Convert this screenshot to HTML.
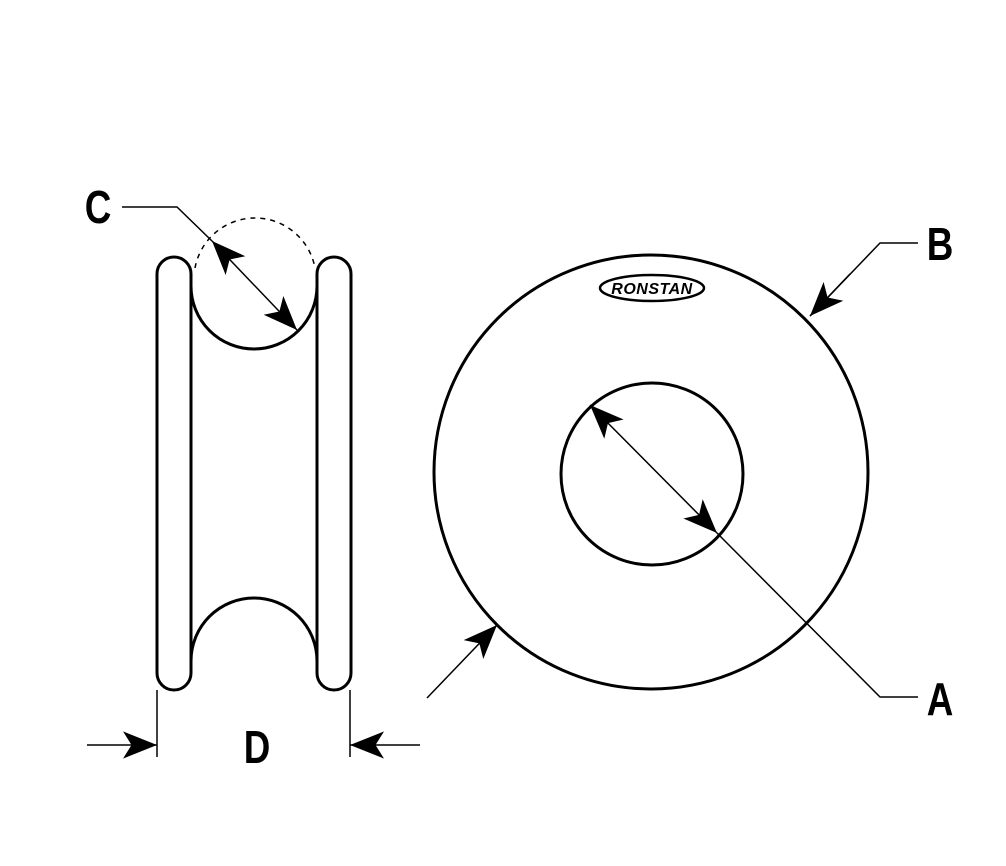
<!DOCTYPE html>
<html><head><style>html,body{margin:0;padding:0;background:#fff}svg{display:block}</style></head><body>
<svg width="1006" height="866" viewBox="0 0 1006 866" xmlns="http://www.w3.org/2000/svg">
<defs>
<marker id="ar2" viewBox="0 0 10 10" refX="10" refY="5" markerWidth="34" markerHeight="34" markerUnits="userSpaceOnUse" orient="auto-start-reverse"><path d="M0,1 L10,5 L0,9 L2.5,5 Z" fill="#000"/></marker>
</defs>
<g fill="none" stroke="#000" stroke-width="3">
<rect x="157" y="257" width="34" height="433" rx="17"/>
<rect x="317" y="257" width="34" height="433" rx="17"/>
<path d="M191,286 A63,63 0 0 0 317,286"/>
<path d="M191,661 A63,63 0 0 1 317,661"/>
<circle cx="651" cy="472" r="217"/>
<circle cx="652" cy="474" r="91"/>
</g>
<path d="M195,268 A61,61 0 0 1 315,268" fill="none" stroke="#000" stroke-width="1.5" stroke-dasharray="5,5"/>
<g stroke="#000" stroke-width="1.5" fill="none">
<polyline points="122,207 177,207 212,241"/>
<line x1="212" y1="241" x2="297" y2="330" marker-start="url(#ar2)" marker-end="url(#ar2)"/>
<line x1="590" y1="405" x2="717" y2="533" marker-start="url(#ar2)" marker-end="url(#ar2)"/>
<polyline points="717,533 880,697 918,697"/>
<polyline points="918,243 880,243 810,316"/>
<line x1="850" y1="274" x2="810" y2="316" marker-end="url(#ar2)"/>
<line x1="427" y1="698" x2="497" y2="625" marker-end="url(#ar2)"/>
<line x1="157" y1="690" x2="157" y2="757"/>
<line x1="350" y1="690" x2="350" y2="757"/>
<line x1="87" y1="745" x2="157" y2="745" marker-end="url(#ar2)"/>
<line x1="420" y1="745" x2="350" y2="745" marker-end="url(#ar2)"/>
</g>
<g font-family="Liberation Sans, sans-serif" font-size="46" font-weight="bold" fill="#000" text-anchor="middle">
<text x="98" y="223" transform="scale(0.8,1) translate(24.5,0)">C</text>
<text x="940" y="260" transform="translate(940,0) scale(0.8,1) translate(-940,0)">B</text>
<text x="940" y="715" transform="translate(940,0) scale(0.8,1) translate(-940,0)">A</text>
<text x="257" y="763" transform="translate(257,0) scale(0.8,1) translate(-257,0)">D</text>
</g>
<ellipse cx="652" cy="288" rx="52" ry="13" fill="none" stroke="#000" stroke-width="2.5"/>
<text x="652" y="294" font-family="Liberation Sans, sans-serif" font-size="16" font-weight="900" font-style="italic" text-anchor="middle" letter-spacing="0.5">RONSTAN</text>
</svg>
</body></html>
